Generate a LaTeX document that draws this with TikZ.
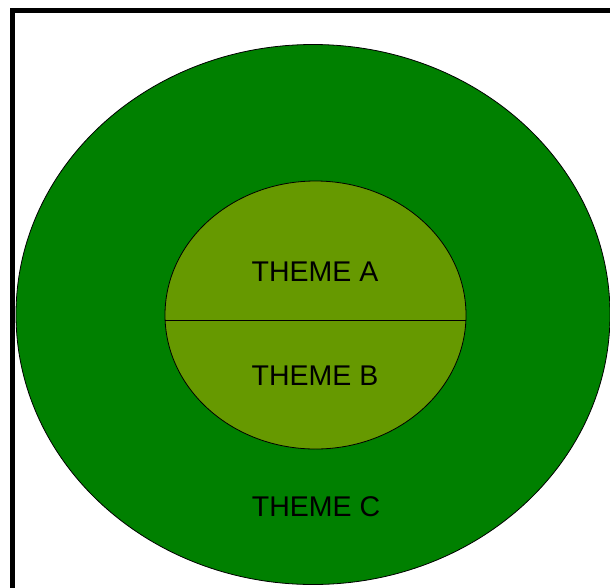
\documentclass[tikz,border=0pt]{standalone}
\usepackage{fontspec}
\setmainfont{Liberation Sans}
\definecolor{outergreen}{RGB}{0,128,0}
\definecolor{innergreen}{RGB}{102,153,0}
\tikzset{
  themetext/.style={font=\fontsize{28.5}{31}\selectfont, text=black, inner sep=0pt, anchor=center},
  ring/.style={draw=black, line width=0.8pt}
}
\begin{document}
\begin{tikzpicture}[x=1pt,y=1pt]
\useasboundingbox (0,0) rectangle (610,-587);
\clip (0,0) rectangle (610,-587);
\fill[white] (0,0) rectangle (610,-587);
% border frame (extends past right and bottom edges)
\draw[line width=5pt, black] (12.5,-700) -- (12.5,-10.5) -- (700,-10.5);
% outer ellipse
\draw[ring, fill=outergreen] (313,-314.5) ellipse [x radius=297, y radius=270];
% inner ellipse
\draw[ring, fill=innergreen] (315.5,-315) ellipse [x radius=150.5, y radius=134];
% dividing line
\coordinate (dl) at (165,-320.5);
\coordinate (dr) at (466,-320.5);
\draw[black, line width=0.8pt] (dl) -- (dr);
% labels
\node[themetext] (ta) at (315,-272) {THEME A};
\node[themetext] (tb) at (315,-376) {THEME B};
\node[themetext] (tc) at (316,-507) {THEME C};
\end{tikzpicture}
\end{document}
